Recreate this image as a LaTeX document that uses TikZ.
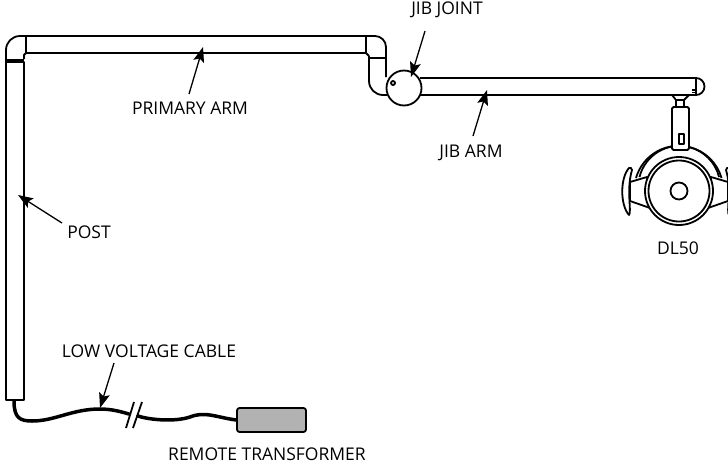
\documentclass[tikz,border=0pt]{standalone}
\usepackage{fontspec}
\setmainfont{Open Sans}
\usepackage{tikz}
\usetikzlibrary{arrows.meta}
\tikzset{
  lbl/.style={inner sep=0pt, font=\fontsize{17.5}{18}\selectfont},
  part/.style={line width=1.8pt, line join=round},
  pointer/.style={-{Stealth[length=15pt,width=11pt,inset=3pt]}, line width=1.3pt},
  cable/.style={line width=3.5pt, line cap=round}
}
\begin{document}
\begin{tikzpicture}[x=1pt,y=-1pt]
\clip (0,0) rectangle (728,464);
% nodes %
\node[lbl] (jibjoint) at (447,10) {JIB JOINT};
\node[lbl] (primary) at (190,108) {PRIMARY ARM};
\node[lbl] (jibarm) at (471,153) {JIB ARM};
\node[lbl] (post) at (89,232) {POST};
\node[lbl] (dl) at (678,248) {DL50};
\node[lbl] (lowv) at (149,351) {LOW VOLTAGE CABLE};
\node[lbl] (remote) at (267,454) {REMOTE TRANSFORMER};
\coordinate (tipprimary) at (203,47);
\coordinate (tipjoint) at (411,77);
\coordinate (tipjib) at (487,90);
\coordinate (tippost) at (18,195);
\coordinate (tipcable) at (100,408);

% post and primary arm %
\draw[part] (6,400) rectangle (24,62);
\draw[part] (6,62) -- (6,50) arc (180:270:14) -- (375,36);
\fill (6,59) rectangle (24,62);
\draw[part] (24,59) -- (24,55) -- (26,53) -- (366,53) -- (369,56);
\draw[part] (26,36) -- (26,53);
\draw[part] (366,36) -- (366,53);
\draw[part] (375,36) arc (-90:0:11) -- (386,77);
\draw[part] (369,56) -- (369,81) arc (180:90:14) -- (387,95);
\draw[part] (369,58) -- (386,58);

% jib arm %
\draw[part] (420,78) -- (696,78) arc (-90:90:8.5) -- (419,95);
\draw[part] (696,78) -- (696,95);
\draw[part] (692,90) -- (696,90);
\draw[part] (692,92.5) -- (696,92.5);
\node[part, draw, fill=white, circle, minimum size=35pt, inner sep=0pt] (joint) at (404,88) {};
\draw[part] (393,83) circle (2);

% head %
\draw[part] (672,95) -- (676,100) -- (676,107);
\draw[part] (689,95) -- (684,100) -- (684,107);
\draw[part] (676,100) -- (684,100);
\draw[part] (636,178) arc (196:344:44.5);
\draw[part] (639.5,177) arc (194:346:41);
\draw[part, fill=white] (630,182) -- (647,177) -- (650,208) -- (630,201) -- cycle;
\draw[part, fill=white] (728,182) -- (711,177) -- (708,208) -- (728,201) -- cycle;
\draw[part, fill=white] (629,168) .. controls (620,178) and (620,205) .. (629,215) .. controls (632,212) and (626,190) .. (632,170) .. controls (632,168) and (630,167) .. (629,168) -- cycle;
\draw[part, fill=white] (729,168) .. controls (738,178) and (738,205) .. (729,215) .. controls (726,212) and (732,190) .. (726,170) .. controls (726,168) and (728,167) .. (729,168) -- cycle;
\draw[part, fill=white] (679,191) circle (34);
\draw[part] (679,191) circle (30.5);
\draw[part] (679,191) circle (8.5);
\draw[part, fill=white, rounded corners=1.5pt] (672,107) rectangle (689,150);
\draw[part] (679,134) rectangle (684,144);

% box and cable %
\node[part, draw, fill=black!30, rounded corners=2.5pt, minimum width=69pt, minimum height=24pt, inner sep=0pt] (box) at (271.5,420) {};
\draw[cable] (14,401) .. controls (14,418) and (20,421) .. (32,421) .. controls (55,421) and (72,409) .. (100,409) .. controls (112,409) and (122,412) .. (129,414);
\draw[cable] (138,416) .. controls (150,420) and (175,422) .. (190,417) .. controls (205,411) and (215,417) .. (box.west);
\draw[part] (126,428) -- (134,402);
\draw[part] (133,428) -- (142,402);

% edges %
\draw[pointer] (primary) ++(-1,-14) -- (tipprimary);
\draw[pointer] (jibjoint) ++(-22,21) -- (tipjoint);
\draw[pointer] (jibarm) ++(2,-17) -- (tipjib);
\draw[pointer] (post) ++(-27,-9) -- (tippost);
\draw[pointer] (lowv) ++(-35,12) -- (tipcable);
\end{tikzpicture}
\end{document}
